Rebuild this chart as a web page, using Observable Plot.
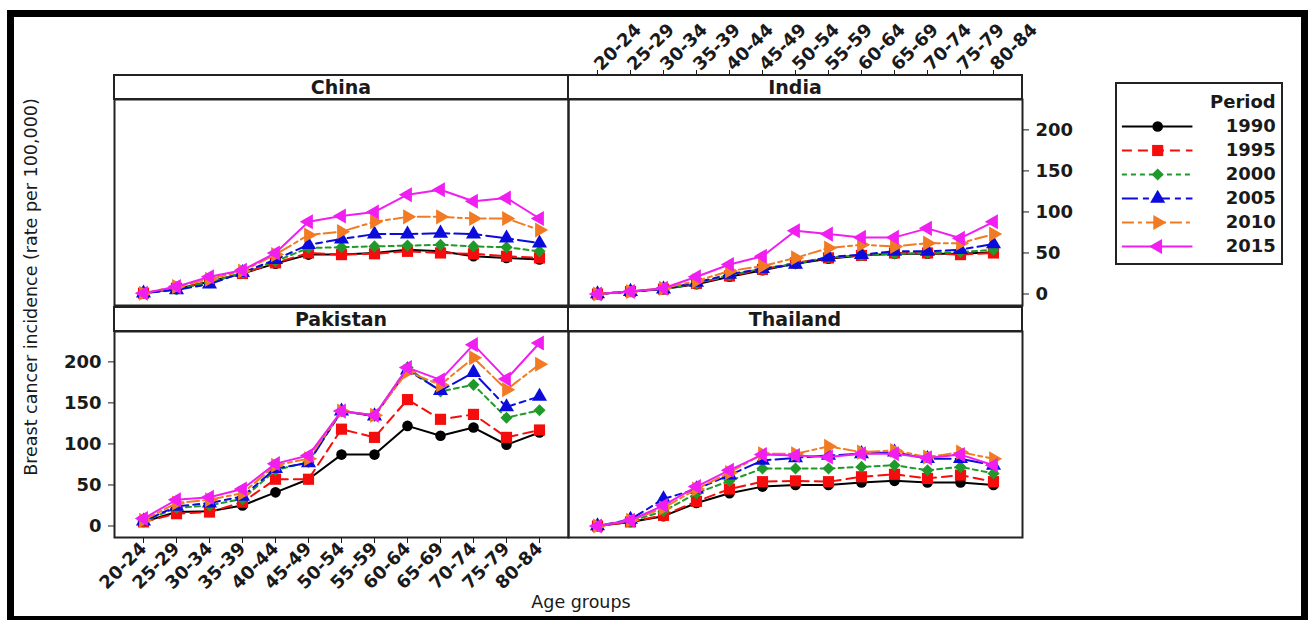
<!DOCTYPE html>
<html>
<head>
<meta charset="utf-8">
<script src="https://cdn.jsdelivr.net/npm/d3@7"></script>
<script src="https://cdn.jsdelivr.net/npm/@observablehq/plot@0.6"></script>
<style>
  body { margin: 0; background: #fff; font-family: "DejaVu Sans", "Liberation Sans", Arial, sans-serif; color: #111; }
  #root { position: relative; width: 1308px; height: 620px; overflow: hidden; background: #fff; }
  .abs { position: absolute; }
  .frame { left: 7px; top: 10px; width: 1301px; height: 610px; border: 7px solid #000; border-bottom-width: 4px; box-sizing: border-box; }
  .strip { border: 2px solid #222; box-sizing: border-box; background: #fff; text-align: center; font-size: 19px; font-weight: bold; color: #1a1a1a; display: flex; align-items: center; justify-content: center; }
  .ytitle { width: 440px; height: 24px; line-height: 24px; text-align: center; font-size: 17.5px; transform: rotate(-90deg); color: #1a1a1a; }
  .xtitle { width: 200px; text-align: center; font-size: 17.5px; color: #1a1a1a; }
  .legend { border: 2px solid #222; box-sizing: border-box; background: #fff; }
</style>
</head>
<body>
<div id="root"></div>
<script>
// ---------------- data ----------------
const ages = ["20-24","25-29","30-34","35-39","40-44","45-49","50-54","55-59","60-64","65-69","70-74","75-79","80-84"];
const periods = ["1990","1995","2000","2005","2010","2015"];
const countries = ["China","India","Pakistan","Thailand"];
const yTicks = [0, 50, 100, 150, 200];

// rows: one per period (1990 ... 2015), columns: age groups
const chinaRates = [
  [1, 6, 15, 25, 37, 48, 48, 50, 54, 52, 46, 44, 42],
  [1, 7, 15, 25, 38, 50, 48, 49, 52, 50, 49, 46, 44],
  [1, 6, 14, 26, 40, 56, 57, 58, 59, 60, 58, 57, 52],
  [1, 5, 12, 26, 42, 60, 67, 73, 73, 74, 73, 68, 62],
  [1, 9, 18, 28, 48, 72, 76, 88, 94, 94, 92, 92, 78],
  [1, 9, 21, 29, 50, 88, 95, 100, 121, 127, 113, 117, 92]
];
const indiaRates = [
  [0, 3, 6, 12, 21, 29, 37, 43, 47, 49, 49, 49, 51],
  [0, 3, 6, 13, 22, 30, 38, 44, 47, 50, 50, 48, 50],
  [0, 3, 6, 13, 23, 31, 37, 45, 47, 49, 50, 51, 54],
  [0, 3, 6, 14, 24, 31, 36, 45, 48, 52, 52, 54, 61],
  [0, 3, 7, 16, 28, 34, 44, 56, 60, 58, 62, 62, 73],
  [0, 3, 7, 21, 36, 46, 77, 73, 69, 69, 80, 68, 88]
];
const pakistanRates = [
  [5, 17, 18, 25, 41, 57, 87, 87, 122, 110, 120, 99, 114],
  [5, 15, 17, 29, 57, 57, 118, 108, 154, 130, 136, 108, 117],
  [6, 22, 25, 33, 68, 78, 140, 134, 193, 164, 172, 132, 141],
  [6, 24, 28, 36, 70, 77, 140, 134, 190, 165, 187, 145, 158],
  [7, 28, 32, 40, 74, 82, 140, 135, 188, 172, 205, 166, 197],
  [9, 32, 35, 45, 76, 86, 140, 135, 193, 178, 221, 179, 223]
];
const thailandRates = [
  [0, 5, 12, 28, 40, 48, 50, 50, 53, 55, 53, 53, 50],
  [0, 5, 13, 30, 45, 54, 55, 54, 60, 63, 58, 62, 54],
  [0, 6, 18, 40, 55, 70, 70, 70, 72, 74, 68, 72, 64],
  [0, 8, 33, 45, 62, 80, 83, 86, 88, 90, 82, 82, 74],
  [0, 7, 22, 45, 65, 88, 88, 97, 90, 92, 84, 90, 82],
  [0, 7, 25, 48, 68, 87, 86, 84, 88, 88, 83, 87, 74]
];

// ---------------- styles ----------------
const colors = ["#000000", "#f50d0d", "#1f9a2a", "#0b0bdc", "#f27a22", "#f01ef0"];
const dashes = [null, "10,6", "5,4", "16,5,6,5", "12,4,4,4", null];

const triRight = { draw(ctx, size) { const y = -Math.sqrt(size / (3 * Math.sqrt(3))); const s = Math.sqrt(3) * y; ctx.moveTo(-2 * y, 0); ctx.lineTo(y, s); ctx.lineTo(y, -s); ctx.closePath(); } };
const triLeft  = { draw(ctx, size) { const y = -Math.sqrt(size / (3 * Math.sqrt(3))); const s = Math.sqrt(3) * y; ctx.moveTo(2 * y, 0); ctx.lineTo(-y, s); ctx.lineTo(-y, -s); ctx.closePath(); } };
const diamondEq = { draw(ctx, size) { const h = Math.sqrt(size / Math.PI) * 1.1; ctx.moveTo(0, -h); ctx.lineTo(h, 0); ctx.lineTo(0, h); ctx.lineTo(-h, 0); ctx.closePath(); } };
const symbols = ["circle", "square", diamondEq, "triangle", triRight, triLeft];
const radii = [5.3, 6.3, 5.5, 5.6, 5.6, 5.6];

const FONT = "'DejaVu Sans', 'Liberation Sans', Arial, sans-serif";
const root = document.getElementById("root");
function place(el, left, top) { el.style.position = "absolute"; el.style.left = left + "px"; el.style.top = top + "px"; root.appendChild(el); return el; }
function div(cls, left, top, w, h, text) {
  const d = document.createElement("div");
  d.className = "abs " + cls;
  d.style.left = left + "px"; d.style.top = top + "px";
  if (w != null) d.style.width = w + "px";
  if (h != null) d.style.height = h + "px";
  if (text != null) d.textContent = text;
  root.appendChild(d);
  return d;
}

div("frame", 7, 10);

const PW = 454, PH = 206, STRIP = 24;
const yDomain = [-14, 237];

function panel(country, rates, area, m, axes) {
  const rows = periods.flatMap((p, i) => ages.map((a, j) => ({country, period: p, age: a, value: rates[i][j]})));
  const marks = [Plot.frame({stroke: "#222", strokeWidth: 2})];
  periods.forEach((p, i) => {
    const d = rows.filter(r => r.period === p);
    marks.push(Plot.line(d, {x: "age", y: "value", stroke: colors[i], strokeWidth: 2, strokeDasharray: dashes[i]}));
    marks.push(Plot.dot(d, {x: "age", y: "value", symbol: symbols[i], r: radii[i], fill: colors[i], stroke: "none"}));
  });
  marks.push(...axes);
  const chart = Plot.plot({
    width: PW + m.l + m.r, height: PH + m.t + m.b,
    marginLeft: m.l, marginRight: m.r, marginTop: m.t, marginBottom: m.b,
    x: {type: "point", domain: ages, padding: 0.68, axis: null},
    y: {domain: yDomain, axis: null},
    style: {fontFamily: FONT, fontSize: "18px", fontWeight: "bold", color: "#1a1a1a", background: "transparent", overflow: "visible"},
    marks
  });
  place(chart, area.x - m.l, area.y - m.t);
  div("strip", area.x - 1, area.y - STRIP - 1, PW + 2, STRIP + 2, country);
}

const tickOpts = {tickSize: 6, label: null};

panel("China", chinaRates, {x: 114, y: 99}, {l: 4, r: 4, t: 4, b: 4}, []);
panel("India", indiaRates, {x: 568, y: 99}, {l: 4, r: 80, t: 90, b: 4}, [
  Plot.axisX({...tickOpts, anchor: "top", tickRotate: -45, tickPadding: 2, dy: -STRIP}),
  Plot.axisY(yTicks, {...tickOpts, anchor: "right", tickPadding: 7})
]);
panel("Pakistan", pakistanRates, {x: 114, y: 331}, {l: 60, r: 4, t: 4, b: 62}, [
  Plot.axisX({...tickOpts, anchor: "bottom", tickRotate: -45, tickPadding: 2}),
  Plot.axisY(yTicks, {...tickOpts, anchor: "left", tickPadding: 7})
]);
panel("Thailand", thailandRates, {x: 568, y: 331}, {l: 4, r: 4, t: 4, b: 4}, []);

// axis titles
div("ytitle", 31 - 220, 287 - 12, null, null, "Breast cancer incidence (rate per 100,000)");
div("xtitle", 581 - 100, 592, null, null, "Age groups");

// legend
const lg = div("legend", 1115, 82, 168, 183);
const legend = Plot.plot({
  width: 164, height: 179, margin: 0,
  x: {domain: [0, 1], axis: null},
  y: {type: "point", domain: ["Period", ...periods], padding: 0.65, axis: null},
  style: {fontFamily: FONT, fontSize: "18px", fontWeight: "bold", color: "#1a1a1a", background: "transparent", overflow: "visible"},
  marks: [
    Plot.text(["Period"], {x: 0.965, y: d => d, text: d => d, textAnchor: "end"}),
    ...periods.flatMap((p, i) => [
      Plot.ruleY([p], {y: d => d, x1: 0.03, x2: 0.46, stroke: colors[i], strokeWidth: 2, strokeDasharray: dashes[i]}),
      Plot.dot([p], {x: 0.245, y: d => d, symbol: symbols[i], r: radii[i], fill: colors[i], stroke: "none"})
    ]),
    Plot.text(periods, {x: 0.965, y: d => d, text: d => d, textAnchor: "end"})
  ]
});
lg.appendChild(legend);
</script>
</body>
</html>
